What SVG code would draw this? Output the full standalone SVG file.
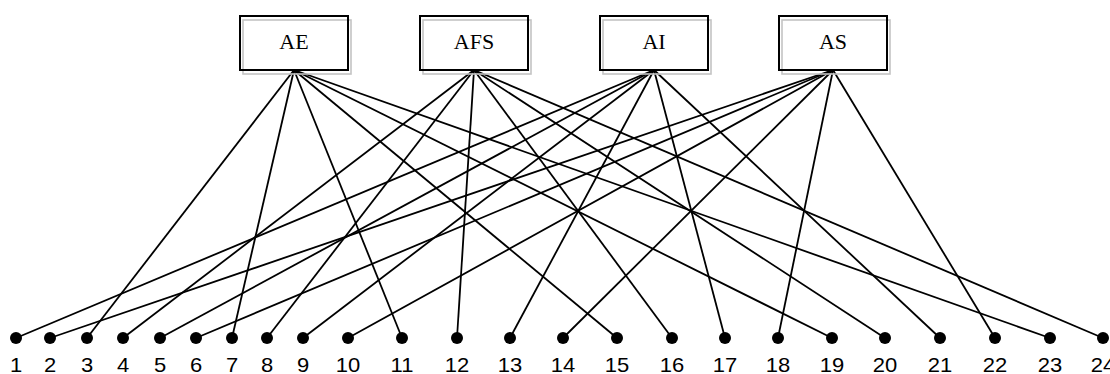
<svg xmlns="http://www.w3.org/2000/svg" width="1110" height="374" viewBox="0 0 1110 374">
  <style>
    .shadow { fill: none; stroke: #c4c4c4; stroke-width: 1.6; }
    .box { fill: none; stroke: #000000; stroke-width: 2; }
    .title { font-family: "Liberation Serif", "Times New Roman", serif; font-size: 20px; text-anchor: middle; fill: #000000; }
    .edge { stroke: #000000; stroke-width: 1.8; fill: none; }
    .dot { fill: #000000; }
    .num { font-family: "Liberation Sans", Arial, sans-serif; font-size: 20px; text-anchor: middle; fill: #000000; }
  </style>
  <rect x="0" y="0" width="1110" height="374" fill="#ffffff"/>

  <!-- connectors: each category fans out from the bottom centre of its box -->
  <g id="connectors">
    <line class="edge" x1="654" y1="70" x2="16" y2="338"/>
    <line class="edge" x1="833" y1="70" x2="50" y2="338"/>
    <line class="edge" x1="294" y1="70" x2="87" y2="338"/>
    <line class="edge" x1="474" y1="70" x2="123" y2="338"/>
    <line class="edge" x1="654" y1="70" x2="160" y2="338"/>
    <line class="edge" x1="833" y1="70" x2="196" y2="338"/>
    <line class="edge" x1="294" y1="70" x2="232" y2="338"/>
    <line class="edge" x1="474" y1="70" x2="267" y2="338"/>
    <line class="edge" x1="654" y1="70" x2="303" y2="338"/>
    <line class="edge" x1="833" y1="70" x2="348" y2="338"/>
    <line class="edge" x1="294" y1="70" x2="402" y2="338"/>
    <line class="edge" x1="474" y1="70" x2="457" y2="338"/>
    <line class="edge" x1="654" y1="70" x2="510" y2="338"/>
    <line class="edge" x1="833" y1="70" x2="563" y2="338"/>
    <line class="edge" x1="294" y1="70" x2="617" y2="338"/>
    <line class="edge" x1="474" y1="70" x2="672" y2="338"/>
    <line class="edge" x1="654" y1="70" x2="725" y2="338"/>
    <line class="edge" x1="833" y1="70" x2="778" y2="338"/>
    <line class="edge" x1="294" y1="70" x2="832" y2="338"/>
    <line class="edge" x1="474" y1="70" x2="885" y2="338"/>
    <line class="edge" x1="654" y1="70" x2="940" y2="338"/>
    <line class="edge" x1="833" y1="70" x2="995" y2="338"/>
    <line class="edge" x1="294" y1="70" x2="1050" y2="338"/>
    <line class="edge" x1="474" y1="70" x2="1103" y2="338"/>
  </g>

  <!-- category boxes -->
  <g id="box-AE">
    <rect class="shadow" x="243" y="20" width="108" height="54"/>
    <rect class="box" x="240" y="16" width="108" height="54"/>
    <text class="title" transform="translate(294,49) scale(1.1,1)">AE</text>
  </g>
  <g id="box-AFS">
    <rect class="shadow" x="423" y="20" width="108" height="54"/>
    <rect class="box" x="420" y="16" width="108" height="54"/>
    <text class="title" transform="translate(474,49) scale(1.1,1)">AFS</text>
  </g>
  <g id="box-AI">
    <rect class="shadow" x="603" y="20" width="108" height="54"/>
    <rect class="box" x="600" y="16" width="108" height="54"/>
    <text class="title" transform="translate(654,49) scale(1.1,1)">AI</text>
  </g>
  <g id="box-AS">
    <rect class="shadow" x="782" y="20" width="108" height="54"/>
    <rect class="box" x="779" y="16" width="108" height="54"/>
    <text class="title" transform="translate(833,49) scale(1.1,1)">AS</text>
  </g>

  <!-- numbered items -->
  <g id="node-1"><circle class="dot" cx="16" cy="338" r="6"/><text class="num" transform="translate(16,372) scale(1.1,1)">1</text></g>
  <g id="node-2"><circle class="dot" cx="50" cy="338" r="6"/><text class="num" transform="translate(50,372) scale(1.1,1)">2</text></g>
  <g id="node-3"><circle class="dot" cx="87" cy="338" r="6"/><text class="num" transform="translate(87,372) scale(1.1,1)">3</text></g>
  <g id="node-4"><circle class="dot" cx="123" cy="338" r="6"/><text class="num" transform="translate(123,372) scale(1.1,1)">4</text></g>
  <g id="node-5"><circle class="dot" cx="160" cy="338" r="6"/><text class="num" transform="translate(160,372) scale(1.1,1)">5</text></g>
  <g id="node-6"><circle class="dot" cx="196" cy="338" r="6"/><text class="num" transform="translate(196,372) scale(1.1,1)">6</text></g>
  <g id="node-7"><circle class="dot" cx="232" cy="338" r="6"/><text class="num" transform="translate(232,372) scale(1.1,1)">7</text></g>
  <g id="node-8"><circle class="dot" cx="267" cy="338" r="6"/><text class="num" transform="translate(267,372) scale(1.1,1)">8</text></g>
  <g id="node-9"><circle class="dot" cx="303" cy="338" r="6"/><text class="num" transform="translate(303,372) scale(1.1,1)">9</text></g>
  <g id="node-10"><circle class="dot" cx="348" cy="338" r="6"/><text class="num" transform="translate(348,372) scale(1.1,1)">10</text></g>
  <g id="node-11"><circle class="dot" cx="402" cy="338" r="6"/><text class="num" transform="translate(402,372) scale(1.1,1)">11</text></g>
  <g id="node-12"><circle class="dot" cx="457" cy="338" r="6"/><text class="num" transform="translate(457,372) scale(1.1,1)">12</text></g>
  <g id="node-13"><circle class="dot" cx="510" cy="338" r="6"/><text class="num" transform="translate(510,372) scale(1.1,1)">13</text></g>
  <g id="node-14"><circle class="dot" cx="563" cy="338" r="6"/><text class="num" transform="translate(563,372) scale(1.1,1)">14</text></g>
  <g id="node-15"><circle class="dot" cx="617" cy="338" r="6"/><text class="num" transform="translate(617,372) scale(1.1,1)">15</text></g>
  <g id="node-16"><circle class="dot" cx="672" cy="338" r="6"/><text class="num" transform="translate(672,372) scale(1.1,1)">16</text></g>
  <g id="node-17"><circle class="dot" cx="725" cy="338" r="6"/><text class="num" transform="translate(725,372) scale(1.1,1)">17</text></g>
  <g id="node-18"><circle class="dot" cx="778" cy="338" r="6"/><text class="num" transform="translate(778,372) scale(1.1,1)">18</text></g>
  <g id="node-19"><circle class="dot" cx="832" cy="338" r="6"/><text class="num" transform="translate(832,372) scale(1.1,1)">19</text></g>
  <g id="node-20"><circle class="dot" cx="885" cy="338" r="6"/><text class="num" transform="translate(885,372) scale(1.1,1)">20</text></g>
  <g id="node-21"><circle class="dot" cx="940" cy="338" r="6"/><text class="num" transform="translate(940,372) scale(1.1,1)">21</text></g>
  <g id="node-22"><circle class="dot" cx="995" cy="338" r="6"/><text class="num" transform="translate(995,372) scale(1.1,1)">22</text></g>
  <g id="node-23"><circle class="dot" cx="1050" cy="338" r="6"/><text class="num" transform="translate(1050,372) scale(1.1,1)">23</text></g>
  <g id="node-24"><circle class="dot" cx="1103" cy="338" r="6"/><text class="num" transform="translate(1103,372) scale(1.1,1)">24</text></g>
</svg>
